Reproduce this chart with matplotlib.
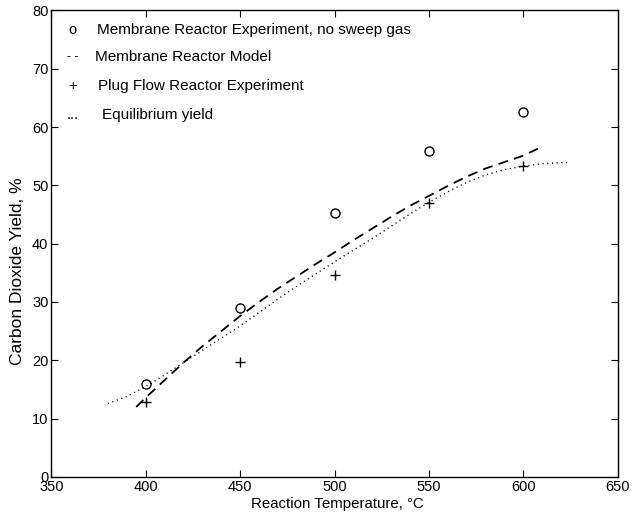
import numpy as np
import matplotlib.pyplot as plt

plt.rcParams['font.family'] = ['Liberation Sans', 'DejaVu Sans']

# experimental points
temp_exp = [400, 450, 500, 550, 600]
membrane_exp = [16.0, 28.9, 45.2, 55.9, 62.6]
plugflow_exp = [12.8, 19.7, 34.7, 47.0, 53.3]

# membrane reactor model (dashed)
temp_model = [395, 400, 410, 420, 430, 440, 450, 460, 470, 480, 490, 500,
              510, 520, 530, 540, 550, 560, 570, 580, 590, 600, 609]
yield_model = [12.0, 13.6, 16.6, 19.6, 22.4, 25.0, 27.6, 30.0, 32.3, 34.4, 36.5, 38.5,
               40.6, 42.6, 44.6, 46.5, 48.2, 49.9, 51.5, 52.9, 54.0, 55.1, 56.5]

# equilibrium yield (dotted)
temp_eq = [380, 390, 400, 410, 420, 430, 440, 450, 460, 470, 480, 490, 500,
           510, 520, 530, 540, 550, 560, 570, 580, 590, 600, 610, 620, 625]
yield_eq = [12.6, 13.8, 15.5, 17.5, 19.6, 21.7, 23.8, 25.9, 28.2, 30.5, 32.7, 34.8, 36.9,
            38.9, 40.9, 43.0, 45.1, 47.1, 48.9, 50.5, 51.8, 52.7, 53.3, 53.7, 53.9, 53.9]

fig = plt.figure(figsize=(6.33, 5.19), dpi=100)
ax = fig.add_axes([0.081, 0.081, 0.895, 0.899])

ax.plot(temp_model, yield_model, color='black', lw=1.3, dashes=(5.5, 3.5))
ax.plot(temp_eq, yield_eq, color='black', lw=1.0, dashes=(0.8, 2.6))
ax.plot(temp_exp, membrane_exp, 'o', ms=6.5, mfc='none', mec='black', mew=1.0)
ax.plot(temp_exp, plugflow_exp, '+', ms=7.5, color='black', mew=1.0)

ax.set_xlim(350, 650)
ax.set_ylim(0, 80)
ax.set_xticks(np.arange(350, 651, 50))
ax.set_yticks(np.arange(0, 81, 10))
ax.tick_params(direction='in', top=True, right=True, length=5, labelsize=10.5, pad=2)
for s in ax.spines.values():
    s.set_linewidth(1.0)

ax.set_xlabel('Reaction Temperature, °C', fontsize=10.8)
ax.xaxis.set_label_coords(0.505, -0.043)
ax.set_ylabel('Carbon Dioxide Yield, %', fontsize=12.5)
ax.yaxis.set_label_coords(-0.046, 0.44)

# hand-made legend as in the original
leg_sym = ['o', '- -', '+', '...']
leg_size = [10.5, 9, 10.5, 10.5]
leg_txt = ['Membrane Reactor Experiment, no sweep gas', 'Membrane Reactor Model',
           'Plug Flow Reactor Experiment', 'Equilibrium yield']
leg_y = [0.957, 0.900, 0.837, 0.775]
leg_x = [0.081, 0.077, 0.083, 0.090]
for sym, sz, txt, y, x in zip(leg_sym, leg_size, leg_txt, leg_y, leg_x):
    ax.text(0.038, y, sym, transform=ax.transAxes, fontsize=sz, ha='center', va='center')
    ax.text(x, y, txt, transform=ax.transAxes, fontsize=11, ha='left', va='center')

fig.savefig('out.png', dpi=100)
